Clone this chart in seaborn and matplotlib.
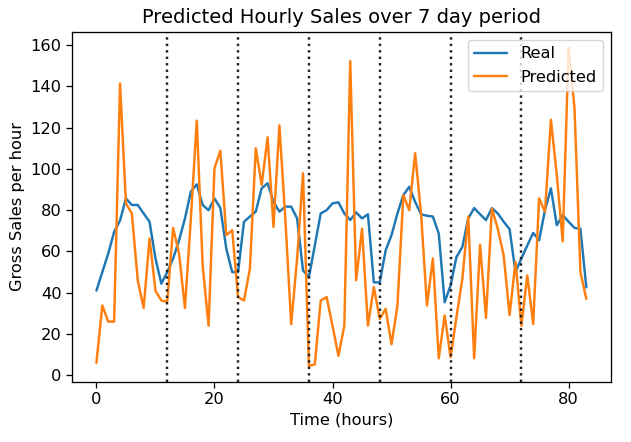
import numpy as np
import pandas as pd
import matplotlib
matplotlib.use("Agg")
import matplotlib.pyplot as plt
import seaborn as sns

hours = list(range(84))
real = [41, 50, 59, 69.5, 75, 85.7, 82.5, 82.5, 78.4, 74.4, 56.6, 44.4, 50, 56.6,
        65.4, 76, 89, 92.5, 82.5, 80, 85.7, 81, 61.4, 50, 50, 74.4, 76.9, 79.3,
        90.6, 93, 84, 79.3, 81.7, 81.7, 76, 50.8, 47.5, 62.9, 78.4, 80, 83.3, 83.8,
        78.4, 75.2, 78.9, 76, 78, 45, 45, 60.5, 67.9, 78.4, 87.3, 91.3, 84, 78,
        77.3, 76.9, 68.7, 35.4, 43.5, 57.3, 62.2, 76, 81, 78, 75.2, 81, 78.4, 74.4,
        70.8, 50, 56.6, 62.9, 69, 65.4, 80, 90.6, 72.7, 77.6, 74.4, 71.4, 71, 42.6]
predicted = [6, 33.8, 26, 26, 141.4, 83.3, 78.4, 46, 32.6, 66.2, 41, 36.2, 35.7, 71.4,
             58.9, 32.6, 76, 123.4, 53.2, 24, 100.3, 108.8, 67.9, 70.3, 37.9, 36.2,
             51.6, 110, 92.2, 115.3, 71.9, 121.1, 76, 24.8, 56.6, 97.9, 4.5, 5.3,
             36.2, 37.9, 24, 9.4, 24, 152.2, 46, 71, 24, 42.7, 27.3, 32.2, 15, 33.8,
             87.3, 80, 107.6, 78.4, 33.8, 56.6, 8.2, 29, 8.7, 28.2, 46.8, 76.9, 8.2,
             63.2, 27.8, 80.8, 71, 58, 29.2, 55, 24, 48.4, 24.8, 85.7, 79.3, 123.8,
             97, 64.9, 158.7, 129.5, 50, 37]
day_bounds = [12, 24, 36, 48, 60, 72]

sns.set_style("ticks")
plt.rcParams['font.family'] = ['DejaVu Sans']
s = 1.17
plt.rcParams.update({
    'font.size': 10 * s,
    'axes.titlesize': 12 * s,
    'axes.labelsize': 10 * s,
    'xtick.labelsize': 10 * s,
    'ytick.labelsize': 10 * s,
    'legend.fontsize': 10 * s,
    'axes.linewidth': 0.8 * s,
    'xtick.major.width': 0.8 * s,
    'ytick.major.width': 0.8 * s,
    'xtick.major.size': 3.5 * s,
    'ytick.major.size': 3.5 * s,
    'text.color': 'black',
    'axes.labelcolor': 'black',
    'axes.edgecolor': 'black',
    'xtick.color': 'black',
    'ytick.color': 'black',
})

df = pd.DataFrame({"hour": hours + hours,
                   "sales": real + predicted,
                   "series": ["Real"] * len(hours) + ["Predicted"] * len(hours)})

fig, ax = plt.subplots(figsize=(6.31, 4.42), dpi=100)
fig.subplots_adjust(left=0.114, right=0.968, top=0.928, bottom=0.136)

sns.lineplot(data=df, x="hour", y="sales", hue="series",
             palette=["#1f77b4", "#ff7f0e"], ax=ax, linewidth=1.5 * s)

for b in day_bounds:
    ax.axvline(b, color="#222222", linestyle=":", linewidth=1.5 * s)

ax.set_title("Predicted Hourly Sales over 7 day period")
ax.set_xlabel("Time (hours)")
ax.set_ylabel("Gross Sales per hour")
ax.set_yticks([0, 20, 40, 60, 80, 100, 120, 140, 160])
ax.set_xticks([0, 20, 40, 60, 80])
ax.legend(loc="upper right", title=None)

fig.savefig("out.png", dpi=100)
